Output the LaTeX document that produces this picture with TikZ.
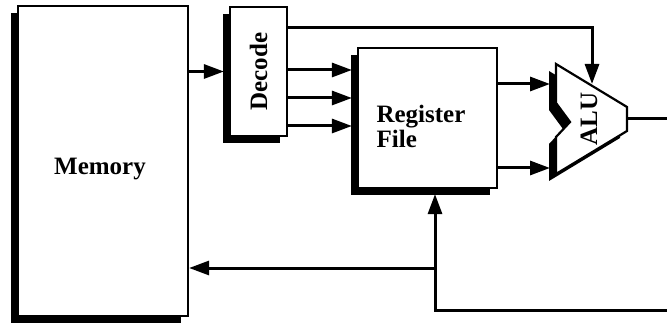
\documentclass[tikz,border=0pt]{standalone}
\usepackage{fontspec}
\setmainfont{Liberation Serif}
\usetikzlibrary{arrows.meta, positioning, shadows, calc}

\tikzset{
  shade box/.style={drop shadow={shadow xshift=-3.5pt, shadow yshift=-3.5pt, fill=black, opacity=1}},
  block/.style={draw=black, line width=1.1pt, fill=white, inner sep=0pt, shade box},
  blocklabel/.style={font=\bfseries\fontsize{12.5}{12.5}\selectfont, inner sep=0pt},
  wire/.style={line width=1.5pt},
  flow/.style={wire, -{Triangle[length=10pt, width=7pt]}}
}

\begin{document}
\begin{tikzpicture}[x=0.5pt, y=-0.5pt]
  \useasboundingbox (0,0) rectangle (667,325);

  % blocks
  \node[block, minimum width=85pt, minimum height=155pt] (mem) at (103,161) {};
  \node[blocklabel] (memtext) at (100,169) {Memory};
  \node[block, minimum width=28.5pt, minimum height=64.5pt] (dec) at (258.5,71.5) {};
  \node[blocklabel, rotate=90] (dectext) at (dec.center) {Decode};
  \node[block, minimum width=69.5pt, minimum height=70pt] (rf) at (427.5,118) {};
  \node[blocklabel, align=left] (rftext) at (421,126) {Register\\File};

  % alu
  \draw[line width=1.1pt, fill=white, shade box]
    (556,64) -- (627,107) -- (627,131) -- (556,174) -- (556,137) -- (570,122) -- (556,103) -- cycle;
  \node[blocklabel, rotate=90] (alutext) at (589,119) {ALU};
  \coordinate (aluin1) at (550,84);
  \coordinate (aluin2) at (550,168);
  \coordinate (aluctl) at (592,84);
  \coordinate (aluout) at (627,119);
  \coordinate (exitout) at (667,119);
  \coordinate (exitback) at (667,310);
  \coordinate (turn) at (435,310);
  \coordinate (split) at (435,268);

  % connections
  \draw[flow] (mem.east |- dec.west) -- ($(dec.west)+(-2.5pt,0)$);
  \foreach \y in {70,98,126}
    \draw[flow] (dec.east |- 0,\y) -- ($(rf.west |- 0,\y)+(-2.5pt,0)$);
  \draw[flow] (dec.east |- 0,28) -| (aluctl);
  \draw[flow] (rf.east |- aluin1) -- (aluin1);
  \draw[flow] (rf.east |- aluin2) -- (aluin2);
  \draw[wire] (aluout) -- (exitout);
  \draw[flow] (exitback) -- (turn) -- ($(turn |- rf.south)+(0,-2.5pt)$);
  \draw[flow] (split) -- (mem.east |- split);
\end{tikzpicture}
\end{document}
